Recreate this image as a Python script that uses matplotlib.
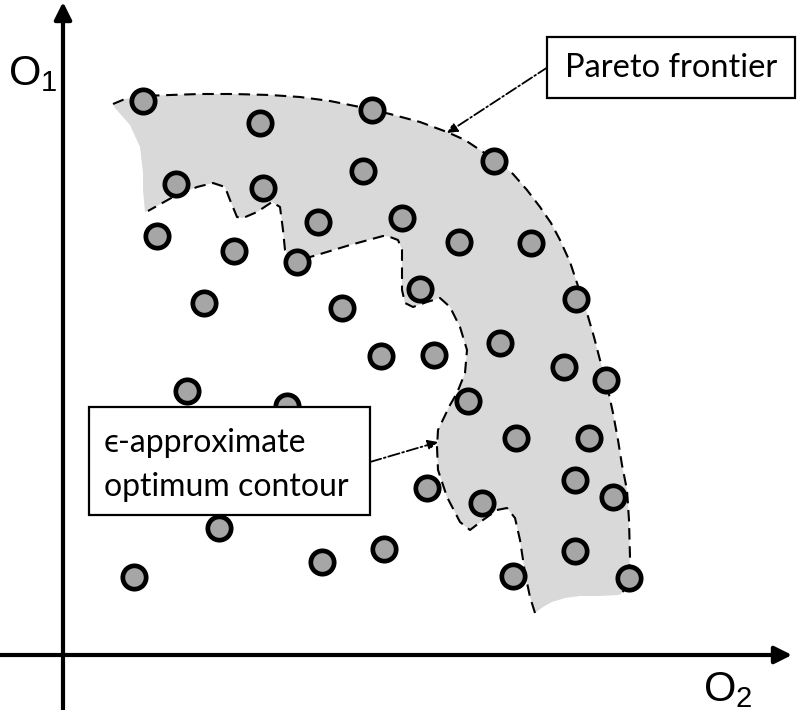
import matplotlib
matplotlib.use("Agg")
import matplotlib.pyplot as plt
from matplotlib.patches import Polygon, Rectangle

plt.rcParams['mathtext.fontset'] = 'custom'
plt.rcParams['mathtext.rm'] = 'Liberation Sans'
plt.rcParams['mathtext.default'] = 'regular'

# ---- data (diagram coordinates, y grows downward) ----
pts_x = [143, 260, 372, 176, 263, 363, 494, 157, 234, 318, 402, 297, 459, 531,
         204, 342, 420, 576, 381, 434, 500, 564, 606, 187, 287, 468, 516, 589,
         427, 482, 575, 613, 219, 322, 384, 134, 513, 575, 629]
pts_y = [101, 123, 110, 184, 188, 171, 161, 236, 251, 222, 218, 262, 242, 243,
         303, 308, 289, 299, 356, 355, 343, 367, 380, 391, 406, 401, 438, 438,
         488, 503, 480, 497, 528, 562, 549, 577, 576, 551, 578]

frontier_x = [113, 125, 143, 170, 200, 233, 270, 300, 330, 360, 390, 420, 447, 465,
              480, 497, 513, 527, 540, 551, 560, 570, 577, 587, 594, 600, 607, 613,
              618, 622, 627, 629, 630, 628, 621]
frontier_y = [104, 99, 96, 95, 94, 94, 95, 97, 101, 107, 114, 122, 132, 140,
              150, 161, 174, 190, 207, 223, 240, 262, 283, 313, 337, 360, 385, 413,
              440, 465, 490, 520, 557, 585, 594]

bottom_x = [618, 600, 580, 565, 552, 543, 535]
bottom_y = [595, 596, 596, 598, 602, 607, 613]

contour_x = [535, 530, 525, 520, 515, 507, 497, 483, 470, 460, 447, 438, 437, 438,
             450, 457, 465, 467, 460, 450, 440, 427, 413, 405, 402, 402, 398, 390,
             383, 350, 317, 293, 285, 283, 280, 272, 257, 243, 237, 230, 225, 213,
             197, 173, 148]
contour_y = [613, 597, 573, 540, 518, 508, 510, 520, 530, 522, 497, 470, 447, 430,
             405, 393, 373, 350, 327, 307, 298, 302, 307, 303, 290, 250, 240, 237,
             236, 245, 255, 262, 250, 230, 207, 202, 212, 218, 217, 200, 187, 183,
             187, 197, 211]

left_x = [145, 143, 143, 140, 130, 115]
left_y = [212, 190, 173, 147, 125, 108]

# ---- figure ----
W, H = 798, 710
fig = plt.figure(figsize=(W / 100, H / 100), dpi=100)
ax = fig.add_axes([0, 0, 1, 1])
ax.set_xlim(0, W)
ax.set_ylim(H, 0)
ax.axis('off')

# shaded region
poly_x = frontier_x + bottom_x + contour_x + left_x
poly_y = frontier_y + bottom_y + contour_y + left_y
ax.add_patch(Polygon(list(zip(poly_x, poly_y)), closed=True, facecolor='#d9d9d9',
                     edgecolor='none', zorder=1))
ax.plot(frontier_x, frontier_y, color='black', lw=1.5, ls=(0, (5.5, 3.2)), zorder=2)
ax.plot(contour_x, contour_y, color='black', lw=1.5, ls=(0, (5.5, 3.2)), zorder=2)

# axes arrows
ax.annotate('', xy=(63, 2), xytext=(63, H + 5),
            arrowprops=dict(arrowstyle='-|>', lw=3, color='black', mutation_scale=26,
                            shrinkA=0, shrinkB=0), zorder=3)
ax.annotate('', xy=(792, 655), xytext=(-5, 655),
            arrowprops=dict(arrowstyle='-|>', lw=3, color='black', mutation_scale=26,
                            shrinkA=0, shrinkB=0), zorder=3)
ax.text(8, 74, r'O$_{1}$', fontsize=30, family='Liberation Sans', ha='left', va='center')
ax.text(703, 690, r'O$_{2}$', fontsize=30, family='Liberation Sans', ha='left', va='center')

# points
ax.plot(pts_x, pts_y, 'o', ls='none', ms=16.8, mfc='#a6a6a6', mec='black', mew=3.4,
        zorder=4)

# annotation arrows
ax.annotate('', xy=(447, 133), xytext=(548, 67),
            arrowprops=dict(arrowstyle='-|>', lw=1.3, ls='-.', color='black',
                            mutation_scale=15, shrinkA=0, shrinkB=0), zorder=5)
ax.annotate('', xy=(438, 442), xytext=(370, 462),
            arrowprops=dict(arrowstyle='-|>', lw=1.3, ls='-.', color='black',
                            mutation_scale=15, shrinkA=0, shrinkB=0), zorder=5)

# boxes
ax.add_patch(Rectangle((547, 37), 248, 61, facecolor='white', edgecolor='black',
                       lw=1.6, zorder=6))
ax.text(671, 68, 'Pareto frontier', fontsize=23.5, family=['Lato', 'DejaVu Sans'],
        ha='center', va='center', zorder=7)
ax.add_patch(Rectangle((89, 407), 281, 108, facecolor='white', edgecolor='black',
                       lw=1.6, zorder=6))
ax.text(104, 443, '\u03f5-approximate', fontsize=23, family=['Lato', 'DejaVu Sans'],
        ha='left', va='center', zorder=7)
ax.text(104, 487, 'optimum contour', fontsize=23, family=['Lato', 'DejaVu Sans'],
        ha='left', va='center', zorder=7)

fig.savefig('out.png', dpi=100)
